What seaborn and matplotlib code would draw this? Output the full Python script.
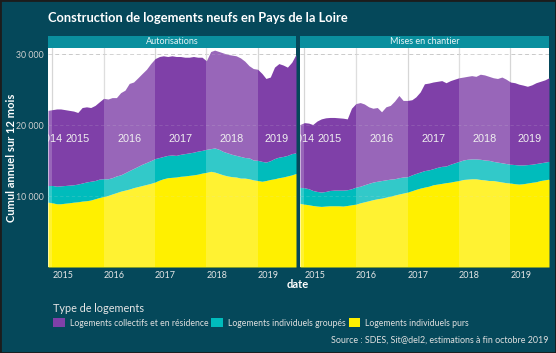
import matplotlib
matplotlib.use("Agg")
import matplotlib.pyplot as plt
import matplotlib.dates as mdates
from matplotlib.patches import Rectangle, Patch
import numpy as np
import pandas as pd
import seaborn as sns

# monthly 12-month rolling totals, Dec 2014 -> Oct 2019
months = pd.date_range("2014-12-01", periods=59, freq="MS")

types = [
    "Logements collectifs et en résidence",
    "Logements individuels groupés",
    "Logements individuels purs",
]
panels = ["Autorisations", "Mises en chantier"]

aut_purs = [9150, 9060, 8920, 8920, 9000, 9060, 9150, 9200, 9300, 9350, 9450, 9630,
            9800, 9950, 10100, 10300, 10500, 10700, 10850, 11000, 11200, 11350, 11500, 11650,
            11800, 12000, 12260, 12450, 12600, 12650, 12700, 12800, 12850, 12930, 13000, 13100,
            13250, 13350, 13500, 13400, 13200, 13000, 12850, 12750, 12700, 12550, 12550, 12450,
            12300, 12200, 12100, 12200, 12350, 12450, 12600, 12700, 12850, 13000, 13200]
aut_groupes = [2350, 2440, 2480, 2530, 2500, 2490, 2450, 2500, 2550, 2650, 2650, 2570,
               2600, 2500, 2350, 2300, 2350, 2300, 2450, 2600, 2700, 2850, 3000, 3100,
               3200, 3300, 3190, 3150, 3150, 3150, 3050, 3100, 3150, 3170, 3200, 3250,
               3200, 3250, 3200, 3400, 3400, 3300, 3250, 3150, 3050, 3050, 2900, 2950,
               2800, 2850, 2800, 2600, 2650, 2850, 2900, 2900, 2900, 3000, 2900]
aut_collectifs = [10600, 10700, 10900, 10850, 10700, 10550, 10400, 10100, 10650, 10600, 10400, 10600,
                  10900, 11350, 11250, 11300, 11050, 11600, 11650, 12300, 12200, 12500, 12800, 13150,
                  13700, 14100, 14250, 14200, 13950, 14000, 13950, 13800, 13600, 13500, 13500, 13250,
                  13150, 12500, 13700, 13800, 13800, 13900, 13900, 14000, 14050, 13900, 13600, 13000,
                  12900, 12850, 12400, 11800, 11800, 12900, 13200, 12900, 12450, 12900, 13900]

mec_purs = [8970, 8870, 8780, 8680, 8600, 8550, 8600, 8640, 8640, 8640, 8600, 8680,
            8780, 8870, 9060, 9200, 9350, 9500, 9630, 9720, 9860, 10000, 10150, 10300,
            10430, 10570, 10760, 10950, 11130, 11270, 11400, 11600, 11700, 11800, 11900, 11980,
            12100, 12200, 12350, 12400, 12450, 12450, 12350, 12300, 12200, 12200, 12100, 12000,
            11900, 11850, 11750, 11700, 11750, 11850, 11950, 12030, 12200, 12300, 12400]
mec_groupes = [2260, 2310, 2260, 2120, 2060, 2020, 2060, 2160, 2210, 2210, 2250, 2220,
               2260, 2400, 2340, 2400, 2450, 2480, 2470, 2480, 2440, 2400, 2300, 2300,
               2270, 2170, 2240, 2250, 2270, 2330, 2300, 2270, 2360, 2400, 2350, 2520,
               2600, 2700, 2750, 2800, 2800, 2800, 2850, 2800, 2850, 2700, 2700, 2700,
               2700, 2650, 2700, 2700, 2650, 2600, 2550, 2570, 2500, 2500, 2500]
mec_collectifs = [8870, 9190, 9260, 9300, 9940, 10330, 10390, 10300, 10250, 10200, 10150, 10000,
                  11360, 11790, 11800, 11400, 10800, 10420, 10400, 9700, 10300, 10400, 10950, 11600,
                  10800, 10760, 10600, 10800, 11300, 12250, 12250, 12230, 12140, 12100, 11750, 11800,
                  11800, 11800, 11700, 11700, 11750, 11650, 12000, 12000, 11850, 11800, 11800, 12100,
                  11900, 11600, 11550, 11400, 11260, 11050, 11200, 11400, 11500, 11600, 11800]

years = [2014, 2015, 2016, 2017, 2018, 2019]
y_ticks = [10000, 20000, 30000]
y_labels = ["10 000", "20 000", "30 000"]

BG = "#05485a"
STRIP = "#0a8f9e"
TXT = "#e6e6e6"
palette = sns.color_palette(["#7f40a8", "#00bcbc", "#fff000"])

frames = {
    "Autorisations": pd.DataFrame({"date": months, types[2]: aut_purs,
                                   types[1]: aut_groupes, types[0]: aut_collectifs}),
    "Mises en chantier": pd.DataFrame({"date": months, types[2]: mec_purs,
                                       types[1]: mec_groupes, types[0]: mec_collectifs}),
}

sns.set_theme(style="white")
plt.rcParams["font.family"] = ["Lato", "DejaVu Sans"]

fig = plt.figure(figsize=(5.56, 3.53), dpi=100, facecolor=BG)

panel_boxes = [(48, 248), (300, 249)]
for name, (px, pw) in zip(panels, panel_boxes):
    ax = fig.add_axes([px / 556, 1 - 267 / 353, pw / 556, 219 / 353])
    df = frames[name]
    ax.set_facecolor("white")

    # stacked areas: purs at bottom, then groupes, then collectifs
    base = np.zeros(len(df))
    for col, color in zip(types[::-1], palette[::-1]):
        top = base + df[col].to_numpy()
        ax.fill_between(df["date"], base, top, color=color, lw=0, zorder=2)
        base = top

    start, end = df["date"].iloc[0], df["date"].iloc[-1]
    ax.set_xlim(start, end)
    ax.set_ylim(0, 30900)

    for yr in years:
        a = max(start, pd.Timestamp(f"{yr}-01-01"))
        b = min(end, pd.Timestamp(f"{yr + 1}-01-01"))
        if yr % 2 == 0:
            ax.axvspan(a, b, color="white", alpha=0.2, lw=0, zorder=3)
        mid = a + (b - a) / 2
        ax.text(mid, 18000, str(yr), ha="center", va="center", color="#f0f0f0",
                fontsize=7.8, family="Liberation Sans", zorder=4, clip_on=True)

    # grid
    for yr in years[1:]:
        ax.axvline(pd.Timestamp(f"{yr}-01-01"), color="#d6d6d6", lw=0.9, zorder=1)
    for yv in y_ticks:
        ax.axhline(yv, color="#c8c8c8", lw=0.7, ls=(0, (4, 3)), zorder=1)
        ax.axhline(yv, color="#dddddd", lw=0.6, ls=(0, (4, 3)), alpha=0.18, zorder=3.5)

    ax.xaxis.set_major_locator(mdates.YearLocator())
    ax.xaxis.set_major_formatter(mdates.DateFormatter("%Y"))
    for lab in ax.get_xticklabels():
        lab.set_horizontalalignment("left")
    ax.tick_params(axis="x", colors=TXT, labelsize=6.5, length=0, pad=3)
    ax.set_yticks(y_ticks)
    if name == panels[0]:
        ax.set_yticklabels(y_labels)
        ax.tick_params(axis="y", colors="#d0d0d0", labelsize=6.3, length=0, pad=3)
    else:
        ax.set_yticklabels([])
        ax.tick_params(axis="y", length=0)
    for s in ax.spines.values():
        s.set_visible(False)
    ax.set_xlabel("")
    ax.set_ylabel("")

    # facet strip
    sax = fig.add_axes([px / 556, 1 - 48 / 353, pw / 556, 12 / 353])
    sax.set_facecolor(STRIP)
    sax.set_xticks([])
    sax.set_yticks([])
    for s in sax.spines.values():
        s.set_visible(False)
    sax.text(0.5, 0.5, name, ha="center", va="center", color="#e8f4f6",
             fontsize=6.5, transform=sax.transAxes)

fig.text(48 / 556, 1 - 18 / 353, "Construction de logements neufs en Pays de la Loire",
         ha="left", va="center", color="white", fontsize=9.3, fontweight="bold")
fig.text(12 / 556, 1 - 158 / 353, "Cumul annuel sur 12 mois", rotation=90,
         ha="center", va="center", color="white", fontsize=8, fontweight="bold")
fig.text(298 / 556, 1 - 285 / 353, "date", ha="center", va="center",
         color="white", fontsize=8, fontweight="bold")

handles = [Patch(facecolor=c, edgecolor="none") for c in palette]
leg = fig.legend(handles, types, ncol=3, loc="lower left",
                 bbox_to_anchor=(50 / 556, 1 - 331 / 353), frameon=False,
                 handlelength=1.3, handleheight=1.3, handletextpad=0.6,
                 columnspacing=0.35, fontsize=6.2, title="Type de logements",
                 title_fontsize=7.8, labelcolor="#e0e0e0", borderaxespad=0)
leg.get_title().set_color("#e6e6e6")
leg._legend_box.align = "left"
leg._legend_box.sep = 3

fig.text(548 / 556, 1 - 340 / 353, "Source : SDES, Sit@del2, estimations à fin octobre 2019",
         ha="right", va="center", color="#e0e0e0", fontsize=6.4)

fig.patches.append(Rectangle((0, 0), 1, 1, transform=fig.transFigure, fill=False,
                             edgecolor="#1c1c1c", lw=2))

fig.savefig("out.png", dpi=100, facecolor=BG)
